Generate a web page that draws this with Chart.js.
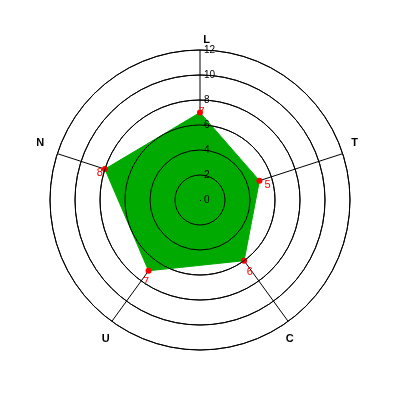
<!DOCTYPE html>
<html><head><meta charset="utf-8">
<script src="https://cdn.jsdelivr.net/npm/chart.js@4/dist/chart.umd.min.js"></script>
<style>html,body{margin:0;padding:0;background:#fff}#wrap{width:400px;height:400px}</style>
</head><body><div id="wrap"><canvas id="c" width="400" height="400"></canvas></div>
<script>
const categories = ['L', 'T', 'C', 'U', 'N'];
const values = [7, 5, 6, 7, 8];
const tickValues = [0, 2, 4, 6, 8, 10, 12];

const overlay = {
  id: 'overlay',
  afterDatasetsDraw(chart) {
    const s = chart.scales.r;
    const ctx = chart.ctx;
    ctx.save();
    ctx.strokeStyle = '#000';
    ctx.lineWidth = 1;
    s.ticks.forEach(t => {
      const r = s.getDistanceFromCenterForValue(t.value);
      if (r <= 0) return;
      ctx.beginPath();
      ctx.arc(s.xCenter, s.yCenter, r, 0, Math.PI * 2);
      ctx.stroke();
    });
    ctx.fillStyle = '#000';
    ctx.fillRect(s.xCenter, s.yCenter, 1, 1);
    ctx.font = '10px "Liberation Sans", Arial, sans-serif';
    ctx.textAlign = 'left';
    ctx.textBaseline = 'middle';
    s.ticks.forEach(t => {
      const r = s.getDistanceFromCenterForValue(t.value);
      ctx.fillText(String(t.label), s.xCenter + 4, s.yCenter - r + 0.5);
    });
    ctx.font = 'bold 11px "Liberation Sans", Arial, sans-serif';
    ctx.textAlign = 'center';
    categories.forEach((lab, i) => {
      const p = s.getPointPosition(i, s.drawingArea);
      const dx = (p.x - s.xCenter) / s.drawingArea;
      const dy = (p.y - s.yCenter) / s.drawingArea;
      const ox = dx > 0.8 ? 12 : dx > 0.3 ? 1.5 : dx < -0.8 ? -17 : dx < -0.3 ? -6 : 6.5;
      const oy = dy < 0 ? -10.5 : 18;
      ctx.fillText(lab, p.x + ox, p.y + oy);
    });
    ctx.fillStyle = '#ff0000';
    ctx.font = '11px "Liberation Sans", Arial, sans-serif';
    const meta = chart.getDatasetMeta(0);
    meta.data.forEach((pt, i) => {
      const dx = pt.x - s.xCenter, dy = pt.y - s.yCenter;
      const len = Math.hypot(dx, dy) || 1;
      ctx.fillText(String(values[i]), pt.x + dx / len * 7 + 1.5, pt.y + dy / len * 7 + 6);
    });
    ctx.restore();
  }
};

new Chart(document.getElementById('c'), {
  type: 'radar',
  data: {
    labels: categories,
    datasets: [{
      data: values,
      fill: true,
      backgroundColor: '#00aa00',
      borderColor: '#00aa00',
      borderWidth: 1,
      tension: 0,
      pointRadius: 3,
      pointBackgroundColor: '#ff0000',
      pointBorderColor: '#ff0000',
      pointBorderWidth: 0
    }]
  },
  options: {
    responsive: false,
    animation: false,
    devicePixelRatio: 1,
    layout: { padding: 50 },
    plugins: { legend: { display: false }, tooltip: { enabled: false } },
    scales: {
      r: {
        min: tickValues[0],
        max: tickValues[tickValues.length - 1],
        ticks: { display: false, stepSize: tickValues[1] - tickValues[0] },
        pointLabels: { display: false },
        grid: { color: '#000', lineWidth: 1, circular: true },
        angleLines: { color: '#000', lineWidth: 1 }
      }
    }
  },
  plugins: [overlay]
});
</script>
</body></html>
